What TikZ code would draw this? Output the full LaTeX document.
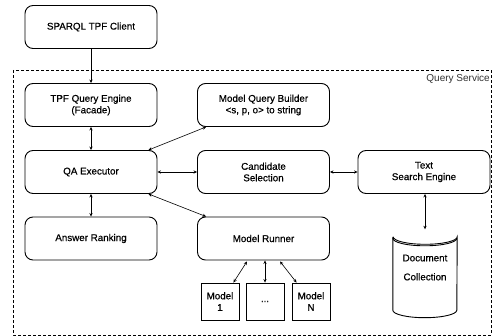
\documentclass[tikz,border=0pt]{standalone}
\usepackage{fontspec}
\setmainfont{Liberation Sans}
\newfontfamily\lblfont{Liberation Sans}[FakeBold=0.6]
\usetikzlibrary{arrows.meta,calc}
\begin{document}
\begin{tikzpicture}[x=1pt,y=-1pt,
  box/.style={draw, line width=0.9pt, rounded corners=8pt, minimum width=132pt, minimum height=43pt, align=center, inner sep=1pt, font=\lblfont\fontsize{9.8}{11.5}\selectfont},
  sbox/.style={draw, line width=0.9pt, minimum width=38pt, minimum height=37pt, align=center, inner sep=1pt, font=\lblfont\fontsize{9.8}{11.5}\selectfont},
  arr/.style={line width=0.6pt, -{Stealth[length=3.5pt,width=3.2pt]}},
  darr/.style={line width=0.6pt, {Stealth[length=3.5pt,width=3.2pt]}-{Stealth[length=3.5pt,width=3.2pt]}}]
\useasboundingbox (0,0) rectangle (492,336);
% service frame
\draw[line width=0.8pt, dash pattern=on 3pt off 2pt] (13,70) rectangle (491,335);
\node[anchor=east, font=\fontsize{10}{12}\selectfont, text=black!80, inner sep=0pt] (qs) at (490,79) {Query Service};
% nodes
\node[box] (client) at (91,27) {SPARQL TPF Client};
\node[box] (tpf) at (91,105) {TPF Query Engine\\(Facade)};
\node[box] (mqb) at (263.5,105) {Model Query Builder\\<s, p, o> to string};
\node[box] (qa) at (91,172) {QA Executor};
\node[box] (cand) at (263.5,172) {Candidate\\Selection};
\node[box] (text) at (424,172) {Text\\Search Engine};
\node[box] (rank) at (91,238.5) {Answer Ranking};
\node[box] (runner) at (263.5,238.5) {Model Runner};
\node[sbox] (m1) at (220,301.5) {Model\\1};
\node[sbox] (dots) at (265,301.5) {...};
\node[sbox] (mN) at (311,301.5) {Model\\N};
% cylinder
\node[minimum width=64pt, minimum height=88pt, inner sep=0pt] (doc) at (425,273.5) {};
\draw[line width=0.9pt, fill=white]
  ($(doc.north west)+(0,7.5)$) -- ($(doc.south west)+(0,-7.5)$)
  arc[start angle=180, end angle=360, x radius=32pt, y radius=7.5pt]
  -- ($(doc.north east)+(0,7.5)$)
  arc[start angle=0, end angle=-180, x radius=32pt, y radius=7.5pt]
  arc[start angle=180, end angle=360, x radius=32pt, y radius=7.5pt];
\draw[line width=0.9pt] ($(doc.north west)+(0,9)$)
  arc[start angle=180, end angle=360, x radius=32pt, y radius=7.5pt];
\node[align=center, font=\lblfont\fontsize{9.8}{19}\selectfont, inner sep=0pt] (doclabel) at (425,267.5) {Document\\Collection};
% connectors
\draw[arr] (client.south) -- (tpf.north);
\draw[darr] (tpf.south) -- (qa.north);
\draw[darr] (qa.south) -- (rank.north);
\draw[darr] (qa.east) -- (cand.west);
\draw[darr] (cand.east) -- (text.west);
\draw[darr] ($(qa.north east)+(-9,0)$) -- ($(mqb.south west)+(9,0)$);
\draw[darr] ($(qa.south east)+(-9,0)$) -- ($(runner.north west)+(9,0)$);
\draw[darr] (text.south -| doc.north) -- (doc.north);
\draw[darr] ($(runner.south)+(-16.5,1)$) -- ($(m1.north east)+(-6,0)$);
\draw[darr] (runner.south -| dots.north) -- (dots.north);
\draw[darr] ($(runner.south)+(16.5,1)$) -- ($(mN.north west)+(5,0)$);
\end{tikzpicture}
\end{document}
